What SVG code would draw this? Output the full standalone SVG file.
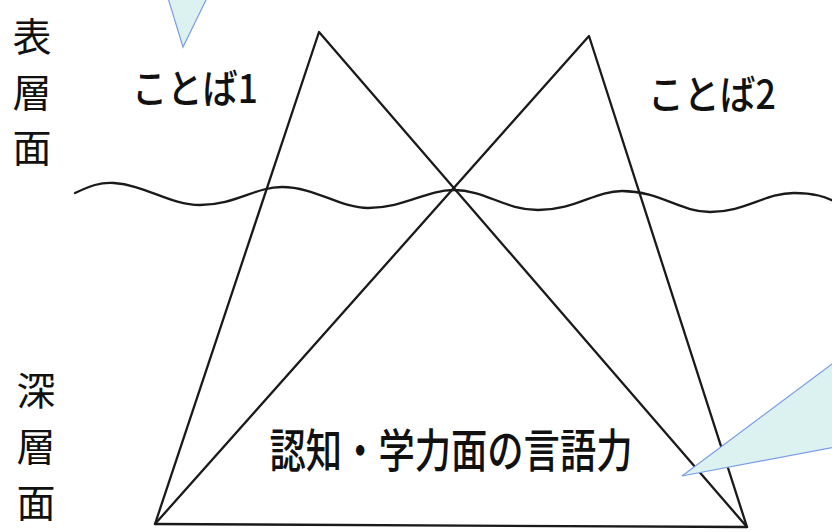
<svg xmlns="http://www.w3.org/2000/svg" width="832" height="532" viewBox="0 0 832 532">
<style>
.ln{fill:none;stroke:#1a1a1a;stroke-width:2.3;stroke-linejoin:round;stroke-linecap:round}
.co{fill:#dcf2f1;stroke:#7b9de6;stroke-width:1.2}
.t{font-family:"Noto Sans CJK JP","Noto Sans",sans-serif;fill:#111;text-anchor:middle;dominant-baseline:central}
.side{font-size:39px}
.w{font-weight:500}
</style>
<rect width="832" height="532" fill="#ffffff"/>
<g id="connectors">
<path class="ln" d="M155,524 L319,32 L747,527"/>
<path class="ln" d="M155,524 L589,36 L747,527"/>
<path class="ln" d="M155,524 L747,527"/>
<path class="ln" d="M75,193 C90,186 100,182 114,183 C145,185 170,205 200,205 C235,205 255,187 282,187 C315,187 340,208 368,208 C405,208 425,190 454,190 C485,190 505,210 538,210 C575,210 595,191 622,191 C660,191 680,212 710,212 C745,212 765,193 794,193 C815,193 825,197 834,201"/>
</g>
<g id="callout-top">
<path class="co" d="M168,-2 L183,47 L207,-2 Z"/>
</g>
<g id="callout-right">
<path class="co" d="M840,358 L682,476 L840,446 Z"/>
</g>
<g id="label-surface">
<text class="t side" x="32" y="34">表</text>
<text class="t side" x="32" y="90">層</text>
<text class="t side" x="32" y="145">面</text>
</g>
<g id="label-deep">
<text class="t side" x="36" y="388">深</text>
<text class="t side" x="36" y="444">層</text>
<text class="t side" x="36" y="500">面</text>
</g>
<g id="word1">
<text class="t w" x="195" y="86" font-size="40" textLength="126" lengthAdjust="spacingAndGlyphs">ことば1</text>
</g>
<g id="word2">
<text class="t w" x="712" y="92" font-size="40" textLength="128" lengthAdjust="spacingAndGlyphs">ことば2</text>
</g>
<g id="cognitive">
<text class="t w" x="451" y="447" font-size="46" textLength="363" lengthAdjust="spacingAndGlyphs">認知・学力面の言語力</text>
</g>
</svg>
